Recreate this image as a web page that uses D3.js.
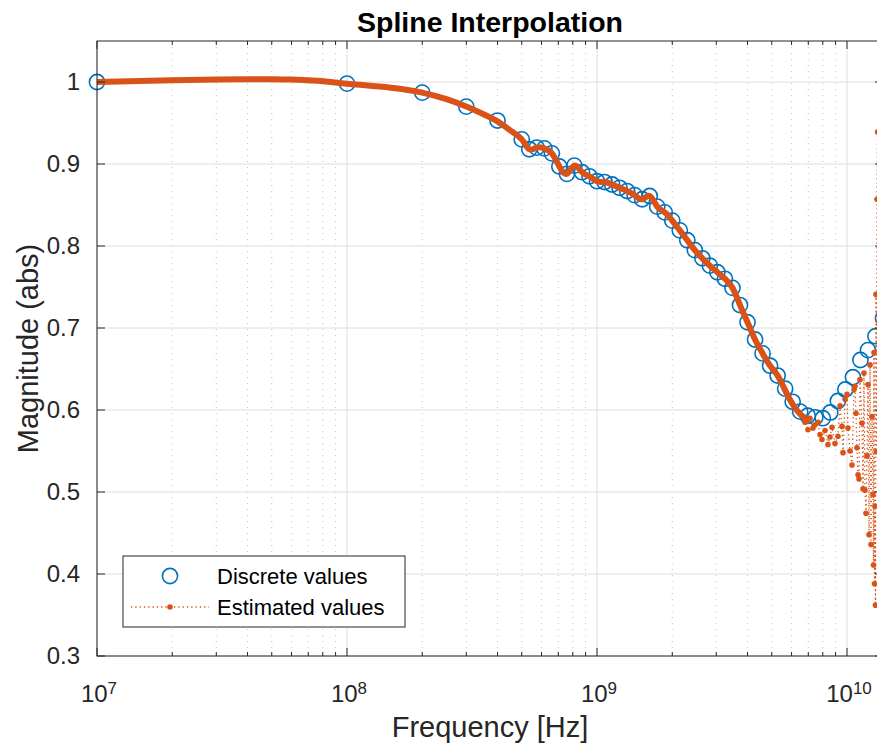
<!DOCTYPE html>
<html>
<head>
<meta charset="utf-8">
<title>Spline Interpolation</title>
<script src="https://d3js.org/d3.v7.min.js"></script>
<style>
  body { margin: 0; background: #fff; }
  svg { font-family: "Liberation Sans", Arial, Helvetica, sans-serif; }
</style>
</head>
<body>
<svg width="877" height="746"></svg>
<script>
// frequencies are in GHz
const discFreq = [0.01, 0.1, 0.2, 0.3, 0.4,
  0.5, 0.536, 0.574, 0.616, 0.66, 0.707, 0.758, 0.812, 0.871, 0.933,
  1.0, 1.072, 1.149, 1.231, 1.32, 1.414, 1.516, 1.625, 1.741, 1.866,
  2.0, 2.144, 2.297, 2.462, 2.639, 2.828, 3.031, 3.249, 3.482, 3.732,
  4.0, 4.287, 4.595, 4.925, 5.278, 5.657, 6.063, 6.498, 6.964, 7.464,
  8.0, 8.574, 9.19, 9.849, 10.556, 11.314, 12.126, 12.996, 13.929];
const discMag = [1.000, 0.998, 0.987, 0.970, 0.953,
  0.930, 0.918, 0.920, 0.919, 0.913, 0.897, 0.888, 0.898, 0.890, 0.885,
  0.879, 0.878, 0.875, 0.871, 0.867, 0.862, 0.857, 0.861, 0.848, 0.841,
  0.831, 0.819, 0.807, 0.795, 0.785, 0.776, 0.768, 0.760, 0.749, 0.728,
  0.707, 0.686, 0.669, 0.654, 0.642, 0.626, 0.610, 0.598, 0.593, 0.591,
  0.590, 0.597, 0.611, 0.625, 0.640, 0.661, 0.673, 0.690, 0.712];

// estimated values, smooth part (dense, reads as a thick band)
const estFreq = [0.01, 0.02, 0.03, 0.04, 0.05, 0.06, 0.07, 0.08, 0.1, 0.15, 0.2, 0.25, 0.3, 0.35, 0.4, 0.45,
  0.5, 0.536, 0.574, 0.616, 0.66, 0.707, 0.758, 0.812, 0.871, 0.933,
  1.0, 1.072, 1.149, 1.231, 1.32, 1.414, 1.516, 1.625, 1.741, 1.866,
  2.0, 2.144, 2.297, 2.462, 2.639, 2.828, 3.031, 3.249, 3.482, 3.732,
  4.0, 4.287, 4.595, 4.925, 5.278, 5.657, 6.063, 6.498, 6.964];
const estMag = [1.000, 1.002, 1.003, 1.0035, 1.0035, 1.003, 1.002, 1.001, 0.998, 0.993, 0.987, 0.979, 0.970, 0.961, 0.952, 0.941,
  0.930, 0.918, 0.920, 0.919, 0.913, 0.897, 0.888, 0.898, 0.890, 0.885,
  0.879, 0.878, 0.875, 0.871, 0.867, 0.862, 0.857, 0.861, 0.848, 0.841,
  0.831, 0.819, 0.807, 0.795, 0.785, 0.776, 0.768, 0.760, 0.749, 0.728,
  0.707, 0.686, 0.669, 0.654, 0.642, 0.624, 0.607, 0.595, 0.588];

// estimated values, scattered high-frequency tail
const tailFreq = [6.79, 6.98, 7.11, 7.31, 7.45, 7.66, 7.80, 7.94, 8.17, 8.39,
  8.55, 8.71, 8.95, 9.20, 9.38, 9.55, 9.64, 9.82, 10.0, 10.09,
  10.28, 10.47, 10.67, 10.76, 10.86, 10.96, 11.07, 11.17, 11.27, 11.48,
  11.59, 11.69, 11.80, 11.91, 12.02, 12.13, 12.25, 12.36, 12.47, 12.59,
  12.71, 12.76, 12.82, 12.88, 12.94, 13.0, 13.06, 13.12, 13.18, 13.24];
const tailMag = [0.585, 0.576, 0.590, 0.578, 0.582, 0.585, 0.570, 0.564, 0.575, 0.558,
  0.567, 0.579, 0.559, 0.568, 0.605, 0.580, 0.548, 0.613, 0.619, 0.578,
  0.550, 0.533, 0.625, 0.629, 0.596, 0.554, 0.521, 0.516, 0.637, 0.584,
  0.504, 0.645, 0.502, 0.474, 0.544, 0.631, 0.448, 0.655, 0.436, 0.592,
  0.497, 0.411, 0.670, 0.388, 0.483, 0.362, 0.741, 0.549, 0.857, 0.939];

const xMajor = [1e7, 1e8, 1e9, 1e10];
const xExp = ["7", "8", "9", "10"];
const yTicks = [0.3, 0.4, 0.5, 0.6, 0.7, 0.8, 0.9, 1];

const blue = "#0072BD", orange = "#D95319", axisCol = "#262626";

const svg = d3.select("svg"),
  margin = { top: 41, left: 97 },
  width = 786,
  height = 615;

const x = d3.scaleLog().domain([1e7, 1.393e10]).range([0, width]);
const y = d3.scaleLinear().domain([0.3, 1.05]).range([height, 0]);

const g = svg.append("g").attr("transform", `translate(${margin.left},${margin.top})`);

svg.append("defs").append("clipPath").attr("id", "clip")
  .append("rect").attr("width", width).attr("height", height);

// grid
const minor = x.ticks().filter(d => !xMajor.includes(d));
g.append("g").selectAll("line").data(minor).join("line")
  .attr("x1", d => x(d)).attr("x2", d => x(d))
  .attr("y1", 0).attr("y2", height)
  .attr("stroke", "#c4c4c4").attr("stroke-dasharray", "1,5");
g.append("g").selectAll("line").data(xMajor).join("line")
  .attr("x1", d => x(d)).attr("x2", d => x(d))
  .attr("y1", 0).attr("y2", height)
  .attr("stroke", "#dedede");
g.append("g").selectAll("line").data(yTicks).join("line")
  .attr("x1", 0).attr("x2", width)
  .attr("y1", d => y(d)).attr("y2", d => y(d))
  .attr("stroke", "#dedede");

// discrete values (markers are not clipped, as in the original)
const disc = discFreq.map((f, i) => ({ f: f * 1e9, v: discMag[i] }));
g.append("g").selectAll("circle").data(disc).join("circle")
  .attr("cx", d => x(d.f)).attr("cy", d => y(d.v)).attr("r", 7.6)
  .attr("fill", "none").attr("stroke", blue).attr("stroke-width", 1.6);

const plot = g.append("g").attr("clip-path", "url(#clip)");

// estimated values
const est = estFreq.map((f, i) => ({ f: f * 1e9, v: estMag[i] }));
const tail = tailFreq.map((f, i) => ({ f: f * 1e9, v: tailMag[i] }));

const line = d3.line().x(d => x(d.f)).y(d => y(d.v));

plot.append("path").datum(est)
  .attr("d", line.curve(d3.curveNatural))
  .attr("fill", "none").attr("stroke", orange)
  .attr("stroke-width", 6).attr("stroke-linejoin", "round").attr("stroke-linecap", "round");

plot.append("path").datum([est[est.length - 1], ...tail])
  .attr("d", line.curve(d3.curveLinear))
  .attr("fill", "none").attr("stroke", orange)
  .attr("stroke-width", 1.3).attr("stroke-dasharray", "1.3,3");

plot.append("g").selectAll("circle").data(tail).join("circle")
  .attr("cx", d => x(d.f)).attr("cy", d => y(d.v)).attr("r", 2.8)
  .attr("fill", orange);

// axes box
g.append("rect").attr("width", width).attr("height", height)
  .attr("fill", "none").attr("stroke", axisCol).attr("stroke-width", 1);

// ticks
const tk = g.append("g").attr("stroke", axisCol);
xMajor.forEach(d => {
  tk.append("line").attr("x1", x(d)).attr("x2", x(d)).attr("y1", height).attr("y2", height - 8);
  tk.append("line").attr("x1", x(d)).attr("x2", x(d)).attr("y1", 0).attr("y2", 8);
});
minor.forEach(d => {
  tk.append("line").attr("x1", x(d)).attr("x2", x(d)).attr("y1", height).attr("y2", height - 4);
  tk.append("line").attr("x1", x(d)).attr("x2", x(d)).attr("y1", 0).attr("y2", 4);
});
yTicks.forEach(d => {
  tk.append("line").attr("x1", 0).attr("x2", 8).attr("y1", y(d)).attr("y2", y(d));
  tk.append("line").attr("x1", width).attr("x2", width - 8).attr("y1", y(d)).attr("y2", y(d));
});

// tick labels
g.append("g").selectAll("text").data(yTicks).join("text")
  .attr("x", -17).attr("y", d => y(d)).attr("dy", "0.35em")
  .attr("text-anchor", "end").attr("fill", axisCol)
  .style("font-size", "24px")
  .text(d => d3.format("~g")(d));

const xl = g.append("g").selectAll("text").data(xMajor).join("text")
  .attr("x", d => x(d) + 2).attr("y", height + 46)
  .attr("text-anchor", "middle").attr("fill", axisCol)
  .style("font-size", "24px");
xl.append("tspan").text("10");
xl.append("tspan").attr("dy", "-0.45em").style("font-size", "17px").text((d, i) => xExp[i]);

// labels
svg.append("text")
  .attr("x", margin.left + width / 2).attr("y", 737)
  .attr("text-anchor", "middle").attr("fill", axisCol)
  .style("font-size", "29px")
  .text("Frequency [Hz]");

svg.append("text")
  .attr("transform", "rotate(-90)")
  .attr("x", -(margin.top + height / 2)).attr("y", 38)
  .attr("text-anchor", "middle").attr("fill", axisCol)
  .style("font-size", "29px")
  .text("Magnitude (abs)");

svg.append("text")
  .attr("x", margin.left + width / 2).attr("y", 32)
  .attr("text-anchor", "middle").attr("fill", "#000")
  .style("font-size", "28.5px").style("font-weight", "bold")
  .text("Spline Interpolation");

// legend
const legend = svg.append("g").attr("transform", "translate(123,556)");
legend.append("rect").attr("width", 282).attr("height", 71)
  .attr("fill", "#fff").attr("stroke", axisCol).attr("stroke-width", 1);
legend.append("circle").attr("cx", 47).attr("cy", 20).attr("r", 7.6)
  .attr("fill", "none").attr("stroke", blue).attr("stroke-width", 1.6);
legend.append("line").attr("x1", 8).attr("x2", 86).attr("y1", 51).attr("y2", 51)
  .attr("stroke", orange).attr("stroke-width", 1.3).attr("stroke-dasharray", "1.3,3");
legend.append("circle").attr("cx", 47).attr("cy", 51).attr("r", 2.8).attr("fill", orange);
legend.append("text").attr("x", 94).attr("y", 20).attr("dy", "0.35em")
  .style("font-size", "22px").attr("fill", "#000").text("Discrete values");
legend.append("text").attr("x", 94).attr("y", 51).attr("dy", "0.35em")
  .style("font-size", "22px").attr("fill", "#000").text("Estimated values");
</script>
</body>
</html>
